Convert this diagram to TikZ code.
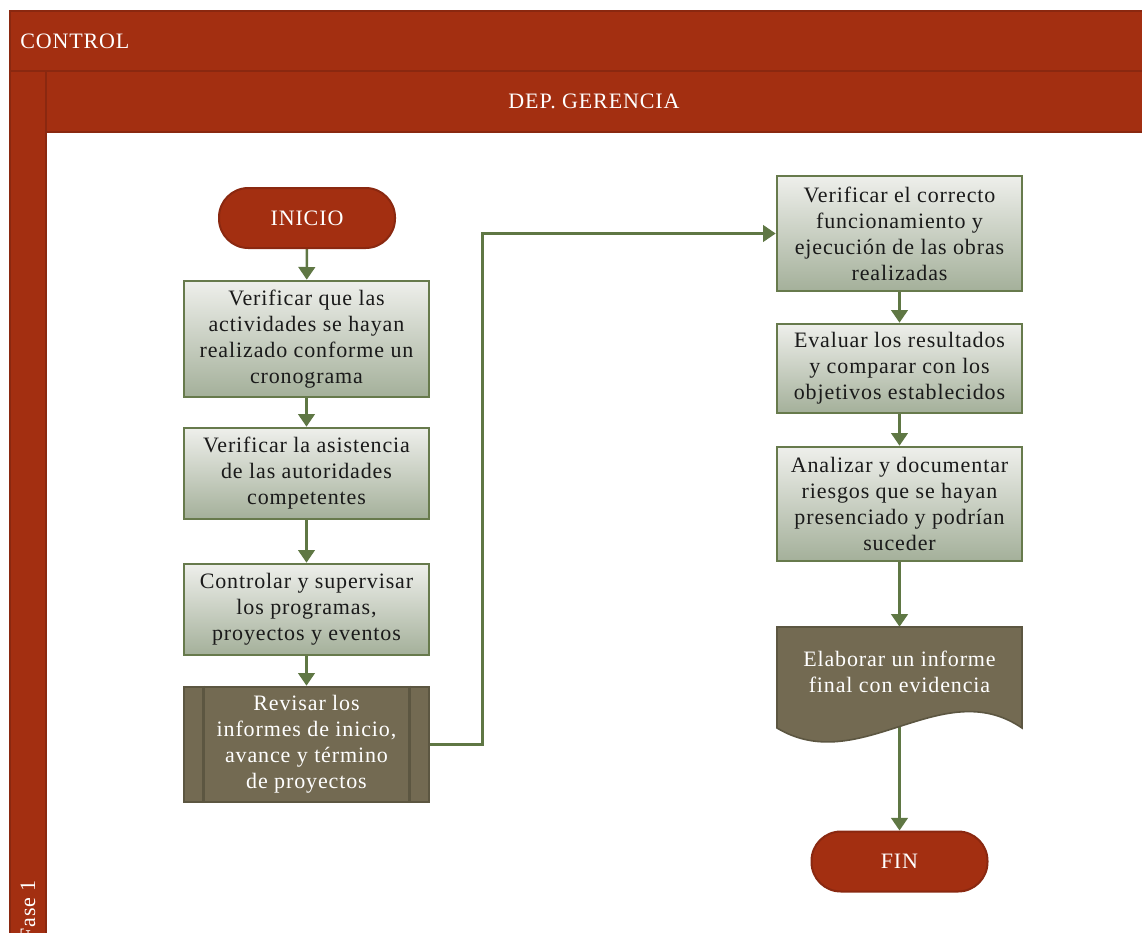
\documentclass[tikz,border=0pt]{standalone}
\usepackage{fontspec}
\setmainfont{Liberation Serif}
\usetikzlibrary{arrows.meta,backgrounds}

\definecolor{lane}{HTML}{A32F11}
\definecolor{laneline}{HTML}{8A2810}
\definecolor{flow}{HTML}{5F7744}
\definecolor{boxtop}{HTML}{EEEFEB}
\definecolor{boxbot}{HTML}{A4B09A}
\definecolor{boxline}{HTML}{677A4C}
\definecolor{darkfill}{HTML}{736A52}
\definecolor{darkline}{HTML}{5C5641}
\definecolor{ink}{HTML}{1A1A1A}

\newcommand{\flowfont}{\addfontfeatures{LetterSpace=4}\fontsize{16.5}{19.5}\selectfont}

\begin{document}
\begin{tikzpicture}[x=0.75pt,y=-0.75pt,
  lanebox/.style={fill=lane,draw=laneline,line width=2.2pt},
  lanetext/.style={text=white,font=\flowfont,inner sep=0pt},
  term/.style={rectangle,rounded corners=22pt,minimum width=132pt,minimum height=45pt,
    fill=lane,draw=laneline,line width=1.5pt,text=white,font=\flowfont},
  procbox/.style={rectangle,minimum width=183.75pt,top color=boxtop,bottom color=boxbot,
    draw=boxline,line width=2pt,text=ink,align=center,font=\flowfont,inner sep=2pt},
  subproc/.style={rectangle,minimum width=183.75pt,fill=darkfill,draw=darkline,line width=2pt,
    text=white,align=center,font=\flowfont},
  docbox/.style={rectangle,minimum width=183.75pt,minimum height=67.5pt,text=white,
    align=center,font=\flowfont},
  link/.style={draw=flow,line width=1.8pt,-{Triangle[length=9.5pt,width=12.5pt]}}]

\useasboundingbox (0,0) rectangle (1142,932);

% swimlane frame
\draw[lanebox] (10,11) rectangle (1160,71);
\draw[lanebox] (10,71) rectangle (46,960);
\draw[lanebox] (46,71) rectangle (1160,132);
\node[lanetext,anchor=west] (pool) at (20,41) {CONTROL};
\node[lanetext] (lane) at (594,101) {DEP. GERENCIA};
\node[lanetext,rotate=90,anchor=east] (phase) at (28,880) {Fase 1};

% left column of steps
\node[term] (inicio) at (307,218) {INICIO};
\node[procbox,minimum height=87pt] (s1) at (306.5,339)
  {Verificar que las\\actividades se hayan\\realizado conforme un\\cronograma};
\node[procbox,minimum height=68.25pt] (s2) at (306.5,473.5)
  {Verificar la asistencia\\de las autoridades\\competentes};
\node[procbox,minimum height=68.25pt] (s3) at (306.5,609.5)
  {Controlar y supervisar\\los programas,\\proyectos y eventos};
\node[subproc,minimum height=86.25pt] (s4) at (306.5,744.5)
  {Revisar los\\informes de inicio,\\avance y término\\de proyectos};
\draw[darkline,line width=2pt] ([xshift=15.75pt]s4.north west) -- ([xshift=15.75pt]s4.south west);
\draw[darkline,line width=2pt] ([xshift=-15.75pt]s4.north east) -- ([xshift=-15.75pt]s4.south east);

% right column of steps
\node[procbox,minimum height=86.25pt] (s5) at (899.5,233.5)
  {Verificar el correcto\\funcionamiento y\\ejecución de las obras\\realizadas};
\node[procbox,minimum height=66.75pt] (s6) at (899.5,368.5)
  {Evaluar los resultados\\y comparar con los\\objetivos establecidos};
\node[procbox,minimum height=85.5pt] (s7) at (899.5,504)
  {Analizar y documentar\\riesgos que se hayan\\presenciado y podrían\\suceder};

% document shape with wavy bottom
\fill[darkfill,draw=darkline,line width=1.2pt]
  (777,627) -- (1022,627) -- (1022,728)
  .. controls (942,673) and (860,778) .. (777,728) -- cycle;
\node[docbox] (s8) at (899.5,672) {Elaborar un informe\\final con evidencia};

\node[term] (fin) at (899.5,861.5) {FIN};

% connectors
\begin{scope}[on background layer]
\draw[link] (inicio) -- (s1);
\draw[link] (s1) -- (s2);
\draw[link] (s2) -- (s3);
\draw[link] (s3) -- (s4);
\draw[link] (s4.east) -- ++(52,0) |- (s5.west);
\draw[link] (s5) -- (s6);
\draw[link] (s6) -- (s7);
\draw[link] (s7) -- (s8.north);
\draw[link] (s8.south) -- (fin);
\end{scope}
\end{tikzpicture}
\end{document}
